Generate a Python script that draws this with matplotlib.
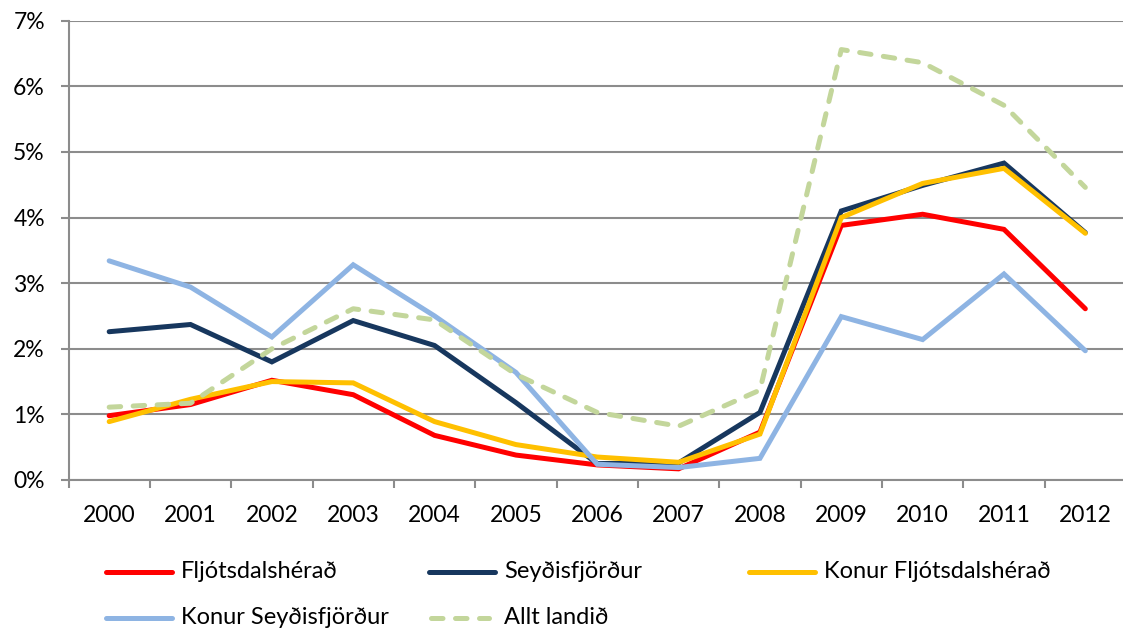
import matplotlib
matplotlib.use("Agg")
import matplotlib.pyplot as plt
from matplotlib.lines import Line2D

plt.rcParams['font.family'] = ['Lato', 'DejaVu Sans']

years = ['2000', '2001', '2002', '2003', '2004', '2005', '2006',
         '2007', '2008', '2009', '2010', '2011', '2012']

fljotsdalsherad = [0.98, 1.15, 1.52, 1.30, 0.68, 0.38, 0.23, 0.17, 0.73, 3.88, 4.05, 3.82, 2.61]
seydisfjordur = [2.26, 2.37, 1.80, 2.43, 2.05, 1.18, 0.25, 0.26, 1.03, 4.10, 4.49, 4.83, 3.77]
konur_fljotsdalsherad = [0.89, 1.23, 1.50, 1.48, 0.89, 0.54, 0.35, 0.27, 0.70, 4.00, 4.52, 4.75, 3.76]
konur_seydisfjordur = [3.34, 2.94, 2.18, 3.28, 2.50, 1.64, 0.24, 0.19, 0.33, 2.49, 2.14, 3.14, 1.97]
allt_landid = [1.11, 1.17, 2.00, 2.61, 2.44, 1.61, 1.03, 0.82, 1.37, 6.56, 6.36, 5.71, 4.46]

series = [
    ('Fljótsdalshérað', fljotsdalsherad, '#FF0000', 'solid'),
    ('Seyðisfjörður', seydisfjordur, '#17375E', 'solid'),
    ('Konur Fljótsdalshérað', konur_fljotsdalsherad, '#FFC000', 'solid'),
    ('Konur Seyðisfjörður', konur_seydisfjordur, '#8EB4E3', 'solid'),
    ('Allt landið', allt_landid, '#C3D69B', 'dashed'),
]

W, H = 1123, 635
fig = plt.figure(figsize=(W / 100, H / 100), dpi=100)
ax = fig.add_axes([68.5 / W, 1 - 480 / H, (1126 - 68.5) / W, (480 - 20.7) / H])

x = list(range(len(years)))
LW = 3.6
for name, vals, color, style in series:
    if style == 'dashed':
        ax.plot(x, vals, color=color, lw=LW, linestyle=(0, (2.3, 2.5)),
                dash_capstyle='round', solid_joinstyle='round')
    else:
        ax.plot(x, vals, color=color, lw=LW, solid_capstyle='round',
                solid_joinstyle='miter')

grid_c = '#8C8C8C'
ax.set_xlim(-0.5, 12.5)
ax.set_ylim(0, 7)
ax.set_yticks(range(0, 8))
ax.set_yticklabels([f'{v}%' for v in range(0, 8)])
ax.yaxis.grid(True, color=grid_c, lw=1.5)
ax.set_axisbelow(True)

FS = 16.5
ax.set_xticks(x)
ax.set_xticklabels(years)
ax.set_xticks([i + 0.5 for i in range(-1, 13)], minor=True)
ax.tick_params(axis='x', which='major', length=0, pad=18, labelsize=FS)
ax.tick_params(axis='x', which='minor', length=6, width=1.5, color=grid_c)
ax.tick_params(axis='y', which='major', length=6, width=1.5, color=grid_c,
               pad=11, labelsize=FS)

for side in ('top', 'right'):
    ax.spines[side].set_visible(False)
for side in ('left', 'bottom'):
    ax.spines[side].set_color(grid_c)
    ax.spines[side].set_linewidth(1.5)

# legend laid out in two rows under the plot
legend_pos = [(104, 572), (427, 572), (747, 572), (104, 618), (427, 618)]
for (name, vals, color, style), (lx, ly) in zip(series, legend_pos):
    y = 1 - ly / H
    x0, x1 = lx / W, (lx + 70) / W
    if style == 'dashed':
        fig.add_artist(Line2D([x0 + 4 / W, x1 - 8 / W], [y, y], transform=fig.transFigure,
                              color=color, lw=LW, linestyle=(0, (2.3, 2.5)),
                              dash_capstyle='round'))
    else:
        fig.add_artist(Line2D([x0 + 2 / W, x1 - 2 / W], [y, y], transform=fig.transFigure,
                              color=color, lw=LW, solid_capstyle='round'))
    fig.text((lx + 77) / W, y, name, fontsize=17, va='center', ha='left')

fig.savefig('out.png', dpi=100)
